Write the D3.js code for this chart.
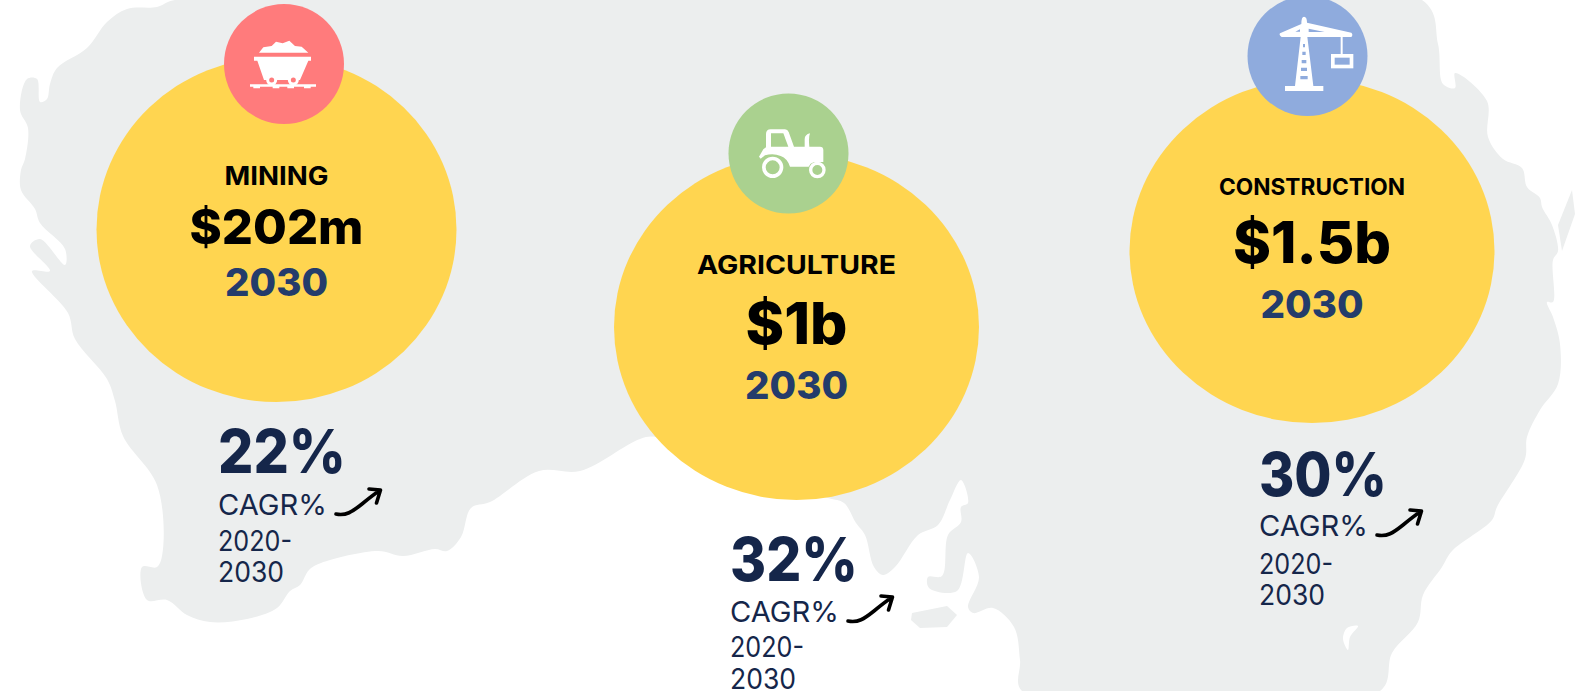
<!DOCTYPE html>
<html>
<head>
<meta charset="utf-8">
<script src="https://cdn.jsdelivr.net/npm/d3@7"></script>
<style>
  html, body { margin: 0; padding: 0; background: #fff; overflow: hidden; }
  svg { display: block; }
  text { font-family: Inter, "Open Sans", sans-serif; }
</style>
</head>
<body>
<svg id="chart" width="1585" height="691"></svg>
<script>
// Chart values
const sectors = ['MINING', 'AGRICULTURE', 'CONSTRUCTION'];
const marketValues = ['$202m', '$1b', '$1.5b'];
const targetYears = ['2030', '2030', '2030'];
const growthRates = ['22%', '32%', '30%'];
const growthLabel = 'CAGR%';
const periodLines = ['2020-', '2030'];

const width = 1585;
const height = 691;

const navy = '#15264a';
const yearBlue = '#243c6b';
const yellow = '#ffd550';
const mapGrey = '#eceeee';

// Layout per sector, one scale per measure
const ordinal = range => d3.scaleOrdinal().domain(sectors).range(range);
const bubbleX = ordinal([276.5, 796.5, 1312]);
const bubbleY = ordinal([229.5, 327, 251]);
const bubbleRx = ordinal([180, 182.5, 182.5]);
const bubbleRy = ordinal([172.5, 173, 172]);
const badgeX = ordinal([284, 788.5, 1307.5]);
const badgeY = ordinal([64, 153.5, 56]);
const badgeColor = ordinal(['#ff7b7c', '#aad18f', '#8fabdd']);

const nameY = ordinal([185, 274, 195]);
const nameSize = ordinal([26, 26, 23]);
const nameWidth = ordinal([104, 199, 186]);
const valueY = ordinal([244, 344, 263]);
const valueSize = ordinal([48, 58, 58]);
const valueWidth = ordinal([174, 102, 158]);
const yearY = ordinal([296, 399, 317.5]);

const growthX = ordinal([218, 730, 1259]);
const growthY = ordinal([473, 581, 496]);
const labelY = ordinal([515, 622, 536]);
const periodY = [ordinal([551, 657, 574]), ordinal([582, 689, 605])];
const periodWidth = [74, 66];

// Backdrop outline of the map, [x, y]
const mainland = [
  [175,0],[157,7],[127,9],[107,22],[87,48],[57,68],[50,84],[47,99],[40,102],[37,79],[27,79],[20,110],
  [28,128],[25,159],[21,170],[21,190],[35,209],[40,223],[65,249],[65,265],[40,239],[30,246],[50,271],
  [32,271],[68,313],[75,339],[107,379],[115,401],[123,436],[157,485],[163,549],[157,567],[142,567],
  [147,600],[167,600],[187,615],[210,622],[247,619],[277,608],[290,591],[300,585],[309,570],[321,563],
  [378,551],[403,556],[435,549],[447,551],[461,537],[471,508],[490,502],[539,471],[580,471],[640,439],
  [656,437],[740,470],[828,498],[844,503],[856,523],[865,535],[874,567],[883,575],[895,567],[918,535],
  [938,525],[950,500],[961,480],[968,503],[961,507],[961,522],[948,535],[942,576],[928,577],[929,588],
  [957,591],[968,553],[979,577],[968,607],[973,613],[993,608],[1014,627],[1020,660],[1022,691],[1380,691],
  [1392,653],[1418,622],[1423,595],[1442,567],[1452,551],[1492,520],[1497,507],[1525,459],[1527,437],
  [1540,410],[1558,384],[1560,344],[1553,317],[1547,302],[1553,302],[1553,260],[1558,251],[1552,225],
  [1542,207],[1540,198],[1527,187],[1522,168],[1503,159],[1488,137],[1487,101],[1455,73],[1455,88],
  [1443,84],[1438,44],[1422,0]
];
const islands = [
  [[912,613],[947,606],[957,615],[947,627],[920,628],[911,620]],
  [[1572,190],[1575,214],[1562,251],[1558,225]]
];
const lake = [[1358,626],[1347,628],[1343,639],[1348,650],[1350,637]];

// Icons, drawn 3x around their own origin
const icons = {
  MINING: { origin: [252, 192], parts: [
    { d: 'M177,158 L190,142 L215,138 L228,125 L248,130 L268,122 L285,138 L305,140 L325,158 Z' },
    { d: 'M162,170 H333 V182 H325 L300,240 H192 L172,182 H162 Z' },
    { d: 'M150,253 H348 V260 H332 V265 H312 V260 H282 V265 H262 V260 H238 V265 H218 V260 H180 V265 H160 V260 H150 Z' },
    { circle: [215, 240, 12] },
    { circle: [280, 240, 12] }
  ] },
  AGRICULTURE: { origin: [235.5, 190.5], parts: [
    { d: 'M168,172 V132 Q168,118 182,118 H225 Q233,118 236,126 L252,170 H284 V148 Q284,134 300,130 Q295,142 298,170 H330 Q340,170 340,180 V216 H312 Q300,220 296,230 H240 Q232,205 212,198 Q190,188 165,196 L152,206 L147,200 L160,178 Z' },
    { fill: true, d: 'M183,130 H220 L235,170 H183 Z' },
    { ring: [188, 232, 32, 11] },
    { ring: [322, 240, 25, 10] }
  ] },
  CONSTRUCTION: { origin: [232.5, 168], parts: [
    { d: 'M150,100 L214,72 Q214,50 222,50 Q231,50 231,68 L364,98 Q370,104 364,111 H232 L250,258 H280 V273 H165 V258 H195 L212,111 H155 Q146,105 150,100 Z' },
    { fill: true, d: 'M196,95 L210,88 V95 Z M236,86 L284,96 H236 Z' },
    { fill: true, d: 'M219,132 H225 V142 H219 Z M217,155 H227 V165 H217 Z M215,180 H229 V190 H215 Z M213,203 H231 V213 H213 Z M211,228 H233 V238 H211 Z' },
    { d: 'M332,110 H338 V162 H332 Z' },
    { frame: [303, 162, 67, 43, 11] }
  ] }
};

const svg = d3.select('#chart');

// Map backdrop
const outline = d3.line().curve(d3.curveLinearClosed);
const coast = d3.line().curve(d3.curveCatmullRomClosed.alpha(0.5));
const backdrop = svg.append('g').attr('fill', mapGrey);
backdrop.append('path').attr('d', coast(mainland));
backdrop.selectAll('.island')
  .data(islands)
  .enter()
  .append('path')
  .attr('class', 'island')
  .attr('d', d => outline(d));
backdrop.append('path').attr('d', coast(lake)).attr('fill', '#fff');

const groups = svg.selectAll('.sector')
  .data(sectors)
  .enter()
  .append('g')
  .attr('class', 'sector');

// Yellow bubbles, then the icon badge on top
groups.append('ellipse')
  .attr('cx', d => bubbleX(d))
  .attr('cy', d => bubbleY(d))
  .attr('rx', d => bubbleRx(d))
  .attr('ry', d => bubbleRy(d))
  .attr('fill', yellow);

groups.append('circle')
  .attr('cx', d => badgeX(d))
  .attr('cy', d => badgeY(d))
  .attr('r', 60)
  .attr('fill', d => badgeColor(d));

groups.each(function(sector) {
  const icon = icons[sector];
  const bg = badgeColor(sector);
  const g = d3.select(this).append('g')
    .attr('transform', `translate(${badgeX(sector)},${badgeY(sector)}) scale(${1 / 3}) translate(${-icon.origin[0]},${-icon.origin[1]})`);
  icon.parts.forEach(p => {
    if (p.d) {
      g.append('path').attr('d', p.d).attr('fill', p.fill ? bg : '#fff');
    } else if (p.circle) {
      g.append('circle').attr('cx', p.circle[0]).attr('cy', p.circle[1]).attr('r', p.circle[2])
        .attr('fill', bg).attr('stroke', '#fff').attr('stroke-width', 9);
    } else if (p.ring) {
      g.append('circle').attr('cx', p.ring[0]).attr('cy', p.ring[1]).attr('r', p.ring[2] - p.ring[3] / 2)
        .attr('fill', bg).attr('stroke', '#fff').attr('stroke-width', p.ring[3]);
    } else if (p.frame) {
      const [x, y, w, h, s] = p.frame;
      g.append('rect').attr('x', x + s / 2).attr('y', y + s / 2).attr('width', w - s).attr('height', h - s)
        .attr('fill', 'none').attr('stroke', '#fff').attr('stroke-width', s);
    }
  });
});

// Centred texts in the bubble
function centred(sel, text, y, size, weight, fill, len) {
  return sel.append('text')
    .attr('x', d => bubbleX(d))
    .attr('y', y)
    .attr('text-anchor', 'middle')
    .attr('font-size', size)
    .attr('font-weight', weight)
    .attr('fill', fill)
    .attr('textLength', len)
    .attr('lengthAdjust', 'spacingAndGlyphs')
    .text(text);
}
centred(groups, d => d, d => nameY(d), d => nameSize(d), 700, '#000', d => nameWidth(d));
centred(groups, (d, i) => marketValues[i], d => valueY(d), d => valueSize(d), 800, '#000', d => valueWidth(d));
centred(groups, (d, i) => targetYears[i], d => yearY(d), 38, 800, yearBlue, 103);

// Growth block under the bubble
function leftText(sel, text, y, size, weight, len) {
  return sel.append('text')
    .attr('x', d => growthX(d))
    .attr('y', y)
    .attr('font-size', size)
    .attr('font-weight', weight)
    .attr('fill', navy)
    .attr('textLength', len)
    .attr('lengthAdjust', 'spacingAndGlyphs')
    .text(text);
}
leftText(groups, (d, i) => growthRates[i], d => growthY(d), 60, 800, 128);
leftText(groups, growthLabel, d => labelY(d), 29, 400, 109);
periodLines.forEach((line, i) => {
  leftText(groups, line, d => periodY[i](d), 28, 400, periodWidth[i]);
});

// Hand drawn arrows next to the CAGR label
groups.append('path')
  .attr('transform', d => `translate(${growthX(d)},${labelY(d)})`)
  .attr('d', 'M118,-1 C128,1 134,-3 144,-11 C150,-16 155,-20 161,-24 M151,-26 L162.5,-25 L158.5,-12')
  .attr('fill', 'none')
  .attr('stroke', '#000')
  .attr('stroke-width', 3.6)
  .attr('stroke-linecap', 'round')
  .attr('stroke-linejoin', 'round');
</script>
</body>
</html>
